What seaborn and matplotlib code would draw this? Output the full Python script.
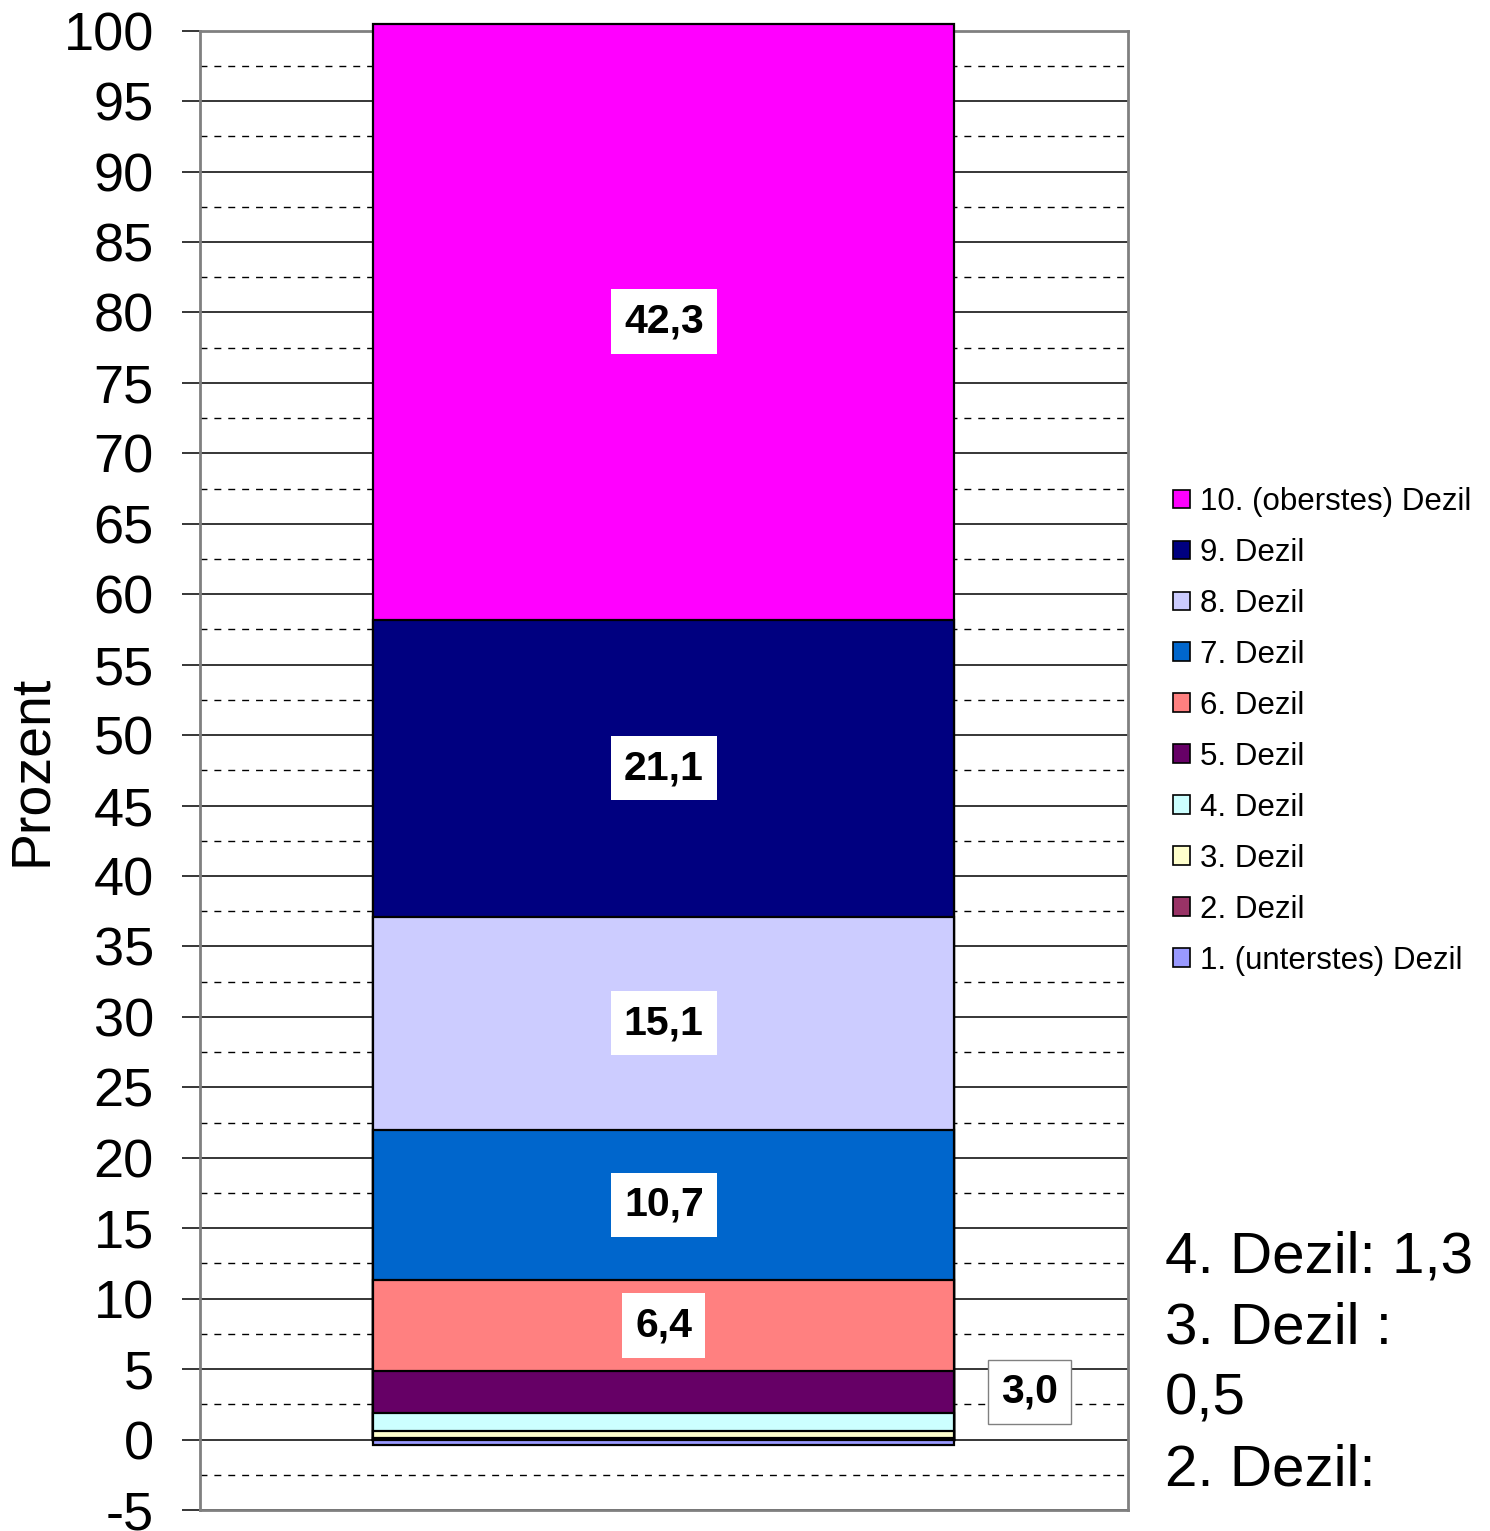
import numpy as np
import pandas as pd
import matplotlib
matplotlib.use("Agg")
import matplotlib.pyplot as plt
from matplotlib.ticker import MultipleLocator
import seaborn as sns

# deciles, shares in percent (1. decile is negative)
deciles = ["1. (unterstes) Dezil", "2. Dezil", "3. Dezil", "4. Dezil", "5. Dezil",
           "6. Dezil", "7. Dezil", "8. Dezil", "9. Dezil", "10. (oberstes) Dezil"]
shares = [-0.4, 0.1, 0.5, 1.3, 3.0, 6.4, 10.7, 15.1, 21.1, 42.3]
share_labels = ["", "", "", "", "3,0", "6,4", "10,7", "15,1", "21,1", "42,3"]
colors = ["#9999FF", "#993366", "#FFFFCC", "#CCFFFF", "#660066",
          "#FF8080", "#0066CC", "#CCCCFF", "#000080", "#FF00FF"]
side_note = "4. Dezil: 1,3\n3. Dezil :\n0,5\n2. Dezil:"

sns.set_style("white")
plt.rcParams["font.family"] = ["Liberation Sans", "DejaVu Sans"]
plt.rcParams["text.color"] = "black"
plt.rcParams["axes.labelcolor"] = "black"
plt.rcParams["ytick.color"] = "black"
plt.rcParams["axes.unicode_minus"] = False

fig = plt.figure(figsize=(14.9, 15.31), dpi=100)
ax = fig.add_axes([0.134, 0.0137, 0.757 - 0.134, 0.980 - 0.0137])

df = pd.DataFrame({"dezil": deciles, "share": shares, "color": colors})
pos = df[df["share"] > 0].copy()
pos["top"] = pos["share"].cumsum()
pos["mid"] = pos["top"] - pos["share"] / 2

# stacked bar: draw cumulative tops from highest to lowest so each overlays the previous
for _, row in pos.iloc[::-1].iterrows():
    sns.barplot(x=[""], y=[row["top"]], color=row["color"], width=0.626,
                edgecolor="black", linewidth=1.6, saturation=1,
                label=row["dezil"], ax=ax, zorder=3)
neg = df[df["share"] < 0]
for _, row in neg.iterrows():
    sns.barplot(x=[""], y=[row["share"]], color=row["color"], width=0.626,
                edgecolor="black", linewidth=1.6, saturation=1,
                label=row["dezil"], ax=ax, zorder=3)
for p in ax.patches:
    p.set_clip_on(False)
if ax.get_legend() is not None:
    ax.get_legend().remove()

# value labels
lab = dict(zip(deciles, share_labels))
for _, row in pos.iterrows():
    txt = lab[row["dezil"]]
    if not txt:
        continue
    if row["share"] >= 5:
        ax.text(0, row["mid"], txt, ha="center", va="center", fontsize=29.5,
                fontweight="bold", zorder=5,
                bbox=dict(boxstyle="square,pad=0.32", fc="white", ec="none"))
    else:
        ax.text(0.394, row["mid"], txt, ha="center", va="center", fontsize=29.5,
                fontweight="bold", zorder=5,
                bbox=dict(boxstyle="square,pad=0.32", fc="white", ec="#808080", lw=1))

ax.set_xlim(-0.5, 0.5)
ax.set_ylim(-5, 100)
ax.yaxis.set_major_locator(MultipleLocator(5))
ax.yaxis.set_minor_locator(MultipleLocator(2.5))
ax.grid(False)
ax.yaxis.grid(True, which="major", color="black", linewidth=1.1, zorder=0)
ax.yaxis.grid(True, which="minor", color="black", linewidth=1.0,
              linestyle=(0, (5, 5)), zorder=0)
ax.set_axisbelow(True)
ax.set_xticks([])
ax.set_xlabel("")
ax.tick_params(axis="y", which="major", direction="out", length=13, width=1.1,
               color="black", labelcolor="black", labelsize=39, pad=20, left=True)
ax.tick_params(axis="y", which="minor", length=0)
ax.set_ylabel("Prozent", fontsize=40, labelpad=4, color="black")
for s in ax.spines.values():
    s.set_visible(True)
    s.set_color("#808080")
    s.set_linewidth(2)

handles, labels = ax.get_legend_handles_labels()
leg = fig.legend(handles, labels, loc="upper left", bbox_to_anchor=(0.779, 0.69),
                 frameon=False, fontsize=22.5, handlelength=0.55, handleheight=0.55,
                 handletextpad=0.3, labelspacing=0.67, borderaxespad=0)
for h in leg.legend_handles:
    h.set_edgecolor("black")
    h.set_linewidth(1.2)
for t in leg.get_texts():
    t.set_color("black")

fig.text(0.782, 0.196, side_note, fontsize=42, ha="left", va="top",
         linespacing=1.4, color="black")

fig.savefig("out.png", dpi=100)
